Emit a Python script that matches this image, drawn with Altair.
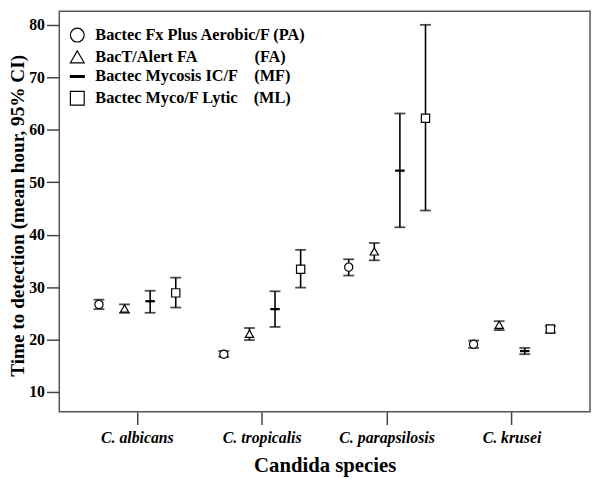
import altair as alt
import pandas as pd

species = ["C. albicans", "C. tropicalis", "C. parapsilosis", "C. krusei"]
NB = "\u00a0"
series = [
    "Bactec Fx Plus Aerobic/F (PA)",
    "BacT/Alert FA" + NB * 14 + "(FA)",
    "Bactec Mycosis IC/F" + NB * 4 + "(MF)",
    "Bactec Myco/F Lytic" + NB * 4 + "(ML)",
]

pa_mean = [26.7, 17.2, 33.8, 19.1]
pa_lo = [25.8, 16.7, 32.2, 18.4]
pa_hi = [27.6, 17.8, 35.3, 19.8]

fa_mean = [25.9, 21.1, 36.8, 22.8]
fa_lo = [25.1, 19.9, 35.1, 21.8]
fa_hi = [26.7, 22.2, 38.4, 23.5]

mf_mean = [27.3, 25.8, 52.2, 17.8]
mf_lo = [25.1, 22.4, 41.4, 17.2]
mf_hi = [29.3, 29.2, 63.1, 18.4]

ml_mean = [28.9, 33.4, 62.2, 22.0]
ml_lo = [26.1, 29.9, 44.6, 21.3]
ml_hi = [31.8, 37.1, 80.0, 22.6]

y_ticks = [10, 20, 30, 40, 50, 60, 70, 80]

rows = []
for s, (m, lo, hi) in zip(series, [(pa_mean, pa_lo, pa_hi), (fa_mean, fa_lo, fa_hi),
                                   (mf_mean, mf_lo, mf_hi), (ml_mean, ml_lo, ml_hi)]):
    for i, sp in enumerate(species):
        rows.append({"species": sp, "series": s, "mean": m[i], "lo": lo[i], "hi": hi[i]})
df = pd.DataFrame(rows)

FONT = "Liberation Serif"
ydom = [6.24, 82.6]

base = alt.Chart(df).encode(
    x=alt.X("species:N", sort=species,
            scale=alt.Scale(paddingInner=0.18, paddingOuter=0.215),
            axis=alt.Axis(title="Candida species", labelAngle=0, tickSize=13,
                          labelPadding=5, titlePadding=10, domain=False,
                          labelFontStyle="italic", labelFontSize=16,
                          titleFontSize=21)),
    xOffset=alt.XOffset("series:N", sort=series,
                        scale=alt.Scale(paddingInner=0, paddingOuter=0)),
)

yscale = alt.Scale(domain=ydom, nice=False, zero=False)
yaxis = alt.Axis(title="Time to detection (mean hour, 95% CI)", values=y_ticks,
                 tickSize=13, labelPadding=2, titlePadding=1, domain=False,
                 grid=False, labelFontSize=16, titleFontSize=19.5, titleY=207)

rules = base.mark_rule(color="black", strokeWidth=1.6).encode(
    y=alt.Y("lo:Q", scale=yscale, axis=yaxis), y2="hi:Q")
cap_lo = base.mark_tick(color="black", thickness=1.8, size=11, orient="horizontal").encode(
    y=alt.Y("lo:Q", scale=yscale))
cap_hi = base.mark_tick(color="black", thickness=1.8, size=11, orient="horizontal").encode(
    y=alt.Y("hi:Q", scale=yscale))

shape_range = ["circle", "triangle-up", "M-1,-0.13L1,-0.13L1,0.13L-1,0.13Z", "square"]
fill_range = ["white", "white", "black", "white"]
stroke_range = ["black", "black", "black", "black"]
leg = alt.Legend(title=None, orient="none", legendX=10, legendY=16,
                 symbolSize=196, symbolStrokeWidth=1.2,
                 labelFontSize=16.5, labelFont=FONT, labelFontWeight="bold",
                 labelOffset=10, rowPadding=3, padding=0, labelLimit=400)

points = base.mark_point(filled=True, opacity=1, size=70, strokeWidth=1.2).encode(
    y=alt.Y("mean:Q", scale=yscale),
    shape=alt.Shape("series:N", sort=series,
                    scale=alt.Scale(domain=series, range=shape_range), legend=leg),
    fill=alt.Fill("series:N", sort=series,
                  scale=alt.Scale(domain=series, range=fill_range), legend=leg),
    stroke=alt.Stroke("series:N", sort=series,
                      scale=alt.Scale(domain=series, range=stroke_range), legend=leg),
)

chart = alt.layer(rules, cap_lo, cap_hi, points).properties(
    width=538, height=406,
    autosize=alt.AutoSizeParams(type="none"),
    padding={"left": 52, "top": 0, "right": 2, "bottom": 66},
).configure_view(
    stroke="#555", strokeWidth=1.5
).configure_axis(
    labelFont=FONT, titleFont=FONT, labelFontWeight="bold", titleFontWeight="bold",
    labelColor="black", titleColor="black", tickColor="#444", tickWidth=1.5,
)

chart.save("out.html", embed_options={"renderer": "svg", "actions": False})
